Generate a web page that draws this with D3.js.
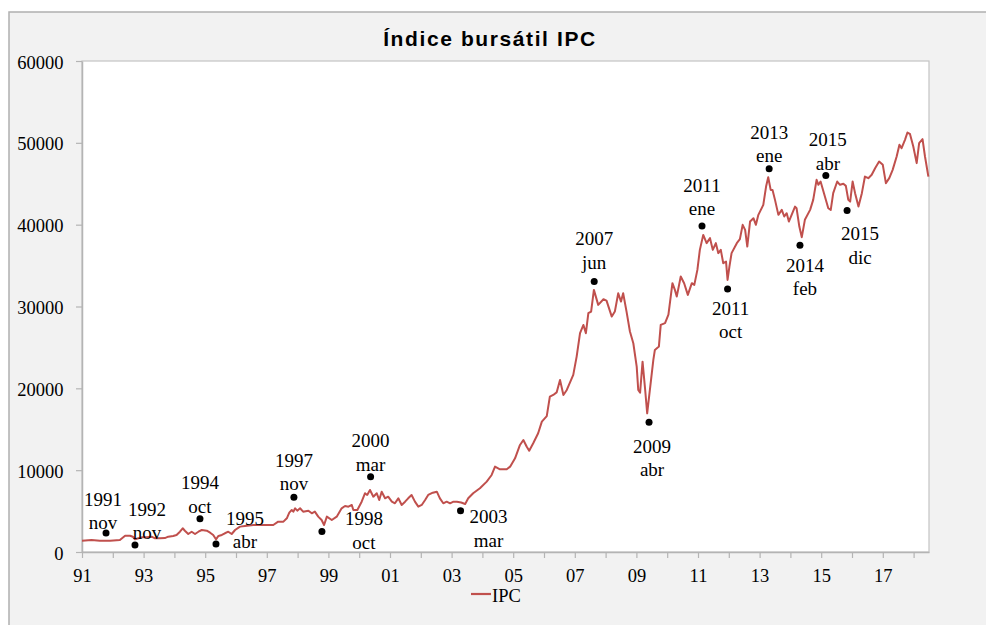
<!DOCTYPE html>
<html>
<head>
<meta charset="utf-8">
<script src="https://cdn.jsdelivr.net/npm/d3@7"></script>
<style>
  html, body { margin: 0; padding: 0; background: #ffffff; }
  svg { display: block; }
</style>
</head>
<body>
<svg id="chart" width="986" height="625"></svg>
<script>
// ---------------- DATA ----------------
const chartTitle = "Índice bursátil IPC";
const seriesName = "IPC";

// time in decimal years, index level
const ipcYears = [
  1991.00, 1991.31, 1991.58, 1991.91, 1992.23, 1992.40, 1992.56, 1992.65, 1992.72, 1992.83,
  1992.94, 1993.10, 1993.26, 1993.37, 1993.53, 1993.69, 1993.80, 1993.96, 1994.07, 1994.18,
  1994.27, 1994.34, 1994.45, 1994.56, 1994.67, 1994.78, 1994.89, 1995.05, 1995.16, 1995.26,
  1995.35, 1995.43, 1995.54, 1995.64, 1995.75, 1995.86, 1995.97, 1996.13, 1996.29, 1996.56,
  1996.89, 1997.21, 1997.37, 1997.54, 1997.65, 1997.73, 1997.81, 1997.86, 1997.92, 1997.99,
  1998.08, 1998.18, 1998.35, 1998.46, 1998.56, 1998.67, 1998.78, 1998.86, 1998.95, 1999.11,
  1999.27, 1999.43, 1999.54, 1999.65, 1999.76, 1999.81, 1999.94, 2000.08, 2000.19, 2000.26,
  2000.35, 2000.46, 2000.57, 2000.65, 2000.73, 2000.84, 2000.94, 2001.06, 2001.16, 2001.27,
  2001.38, 2001.49, 2001.59, 2001.70, 2001.81, 2001.92, 2002.03, 2002.14, 2002.24, 2002.39,
  2002.52, 2002.62, 2002.73, 2002.84, 2002.95, 2003.06, 2003.17, 2003.31, 2003.44, 2003.54,
  2003.70, 2003.92, 2004.14, 2004.30, 2004.41, 2004.57, 2004.79, 2004.90, 2005.06, 2005.22,
  2005.33, 2005.44, 2005.52, 2005.65, 2005.81, 2005.93, 2006.09, 2006.19, 2006.30, 2006.41,
  2006.52, 2006.63, 2006.74, 2006.88, 2006.95, 2007.06, 2007.17, 2007.28, 2007.36, 2007.44,
  2007.53, 2007.62, 2007.76, 2007.93, 2008.03, 2008.20, 2008.30, 2008.41, 2008.50, 2008.57,
  2008.68, 2008.79, 2008.90, 2009.01, 2009.06, 2009.12, 2009.20, 2009.28, 2009.35, 2009.55,
  2009.60, 2009.73, 2009.79, 2009.93, 2010.04, 2010.17, 2010.25, 2010.31, 2010.44, 2010.55,
  2010.67, 2010.80, 2010.88, 2010.98, 2011.06, 2011.17, 2011.28, 2011.39, 2011.48, 2011.58,
  2011.66, 2011.74, 2011.82, 2011.91, 2011.96, 2012.02, 2012.09, 2012.26, 2012.36, 2012.45,
  2012.53, 2012.60, 2012.69, 2012.80, 2012.88, 2012.96, 2013.04, 2013.12, 2013.21, 2013.28,
  2013.36, 2013.42, 2013.50, 2013.61, 2013.72, 2013.80, 2013.88, 2013.95, 2014.04, 2014.15,
  2014.20, 2014.29, 2014.37, 2014.47, 2014.64, 2014.74, 2014.85, 2014.91, 2014.98, 2015.12,
  2015.23, 2015.31, 2015.39, 2015.52, 2015.61, 2015.72, 2015.80, 2015.88, 2015.94, 2016.02,
  2016.10, 2016.21, 2016.32, 2016.42, 2016.53, 2016.64, 2016.75, 2016.88, 2017.00, 2017.10,
  2017.21, 2017.32, 2017.45, 2017.54, 2017.61, 2017.72, 2017.80, 2017.88, 2017.99, 2018.10,
  2018.18, 2018.29, 2018.37, 2018.48
];
const ipcValues = [
  1380, 1470, 1380, 1380, 1470, 1990, 1990, 1870, 1550, 1670,
  1790, 1790, 1870, 1670, 1670, 1700, 1870, 1960, 2080, 2480,
  2900, 2600, 2200, 2480, 2200, 2480, 2690, 2600, 2360, 2080,
  1550, 1960, 2080, 2290, 2480, 2200, 2690, 3100, 3180, 3300,
  3300, 3300, 3710, 3710, 4120, 4810, 5130, 4930, 5340, 5050,
  5340, 4930, 5050, 4730, 4930, 4320, 3910, 3300, 4320, 3910,
  4320, 5340, 5620, 5540, 5750, 5130, 5130, 6150, 7180, 6970,
  7580, 6760, 7180, 6360, 7370, 6560, 6760, 6150, 5950, 6560,
  5750, 6150, 6560, 6970, 6150, 5540, 5750, 6360, 6970, 7250,
  7370, 6560, 5950, 6150, 5950, 6150, 6150, 6050, 5870, 6560,
  7180, 7790, 8600, 9410, 10430, 10110, 10110, 10430, 11450, 13080,
  13690, 12870, 12380, 13290, 14510, 15930, 16600, 18990, 19190, 19500,
  21030, 19190, 19800, 21030, 21640, 23880, 26740, 27750, 26740, 29180,
  29380, 32030, 30200, 30890, 30720, 28770, 29380, 31620, 30600, 31620,
  29380, 26940, 25510, 22660, 19800, 19480, 23260, 20010, 16950, 23470,
  24690, 25100, 27750, 27960, 29000, 32850, 32030, 31210, 33660, 32850,
  31420, 32850, 32640, 34470, 36920, 38750, 37740, 38350, 36920, 37740,
  36520, 36920, 35290, 35490, 33250, 34880, 36520, 37740, 38230, 39980,
  39360, 37330, 40380, 40790, 39980, 41200, 41810, 42420, 44660, 45800,
  44250, 44250, 43030, 41200, 41810, 41000, 41400, 40380, 41200, 42210,
  42010, 39770, 38470, 40590, 41810, 43030, 45480, 44870, 45270, 43430,
  42010, 41810, 43850, 45270, 44870, 44990, 44740, 43030, 42820, 45270,
  43850, 42210, 43850, 45880, 45680, 46090, 46900, 47710, 47310, 45070,
  45680, 46700, 48330, 49760, 49350, 50370, 51260, 51100, 49550, 47520,
  49960, 50450, 48330, 45880
];

// highlighted turning points
const markYears  = [1991.78, 1992.72, 1994.83, 1995.35, 1997.88, 1998.79, 2000.37, 2003.29,
                    2007.63, 2009.41, 2011.13, 2011.96, 2013.31, 2014.31, 2015.15, 2015.84];
const markValues = [2330, 860, 4070, 980, 6680, 2500, 9210, 5050,
                    33040, 15860, 39850, 32150, 46820, 37490, 46000, 41720];
const markYearText  = ["1991", "1992", "1994", "1995", "1997", "1998", "2000", "2003",
                       "2007", "2009", "2011", "2011", "2013", "2014", "2015", "2015"];
const markMonthText = ["nov", "nov", "oct", "abr", "nov", "oct", "mar", "mar",
                       "jun", "abr", "ene", "oct", "ene", "feb", "abr", "dic"];

// axes
const yTickValues = [0, 10000, 20000, 30000, 40000, 50000, 60000];
const xTickYears  = d3.range(1991, 2019);
const xTickLabels = ["91", "", "93", "", "95", "", "97", "", "99", "", "01", "", "03", "", "05", "",
                     "07", "", "09", "", "11", "", "13", "", "15", "", "17", ""];

// ---------------- LAYOUT (not data) ----------------
// label placement relative to each dot: [dx, baseline offset of the month line]
const labelPlacement = [
  [-3, -4], [12, -6], [0, -6], [29, 4], [0, -7], [42, 17], [0, -6], [28, 36],
  [0, -13], [3, 54], [0, -11], [3, 49], [0, -7], [5, 50], [2, -6], [13, 53]
];

const W = 986, H = 625;
const plot = { left: 82, right: 929, top: 61, bottom: 552 };
const serif = "'Liberation Serif', 'Times New Roman', serif";
const sans = "'Liberation Sans', Arial, sans-serif";
const red = "#c0504d";
const gridGrey = "#b4b4b4";

const svg = d3.select("#chart");

// outer chart frame
svg.append("rect").attr("x", 9).attr("y", 12).attr("width", 1000).attr("height", 700)
  .attr("fill", "#f2f2f2").attr("stroke", "#b0b0b0").attr("stroke-width", 1.5);

// plot area
svg.append("rect").attr("x", plot.left).attr("y", plot.top)
  .attr("width", plot.right - plot.left).attr("height", plot.bottom - plot.top)
  .attr("fill", "#ffffff").attr("stroke", "#c4c4c4").attr("stroke-width", 1.2);

const x = d3.scaleLinear().domain([1991, 2018.5]).range([plot.left, plot.right]);
const y = d3.scaleLinear().domain([0, 60000]).range([plot.bottom, plot.top]);

// title
svg.append("text").attr("x", 490).attr("y", 46).attr("text-anchor", "middle")
  .attr("font-family", sans).attr("font-weight", "bold").attr("font-size", 21)
  .attr("letter-spacing", 1.6)
  .attr("fill", "#000").text(chartTitle);

// y axis
const yAxis = svg.append("g").attr("transform", `translate(${plot.left},0)`)
  .call(d3.axisLeft(y).tickValues(yTickValues).tickFormat(d3.format("d"))
    .tickSize(6).tickSizeOuter(0).tickPadding(12.5));
yAxis.select(".domain").attr("stroke", gridGrey).attr("stroke-width", 1.5);
yAxis.selectAll(".tick line").attr("stroke", gridGrey).attr("stroke-width", 1.2);
yAxis.selectAll(".tick text").attr("font-family", serif).attr("font-size", 18.5)
  .attr("fill", "#000").attr("dy", "0.38em");

// x axis
const xAxis = svg.append("g").attr("transform", `translate(0,${plot.bottom})`)
  .call(d3.axisBottom(x).tickValues(xTickYears).tickFormat((d, i) => xTickLabels[i])
    .tickSize(6).tickSizeOuter(0).tickPadding(11));
xAxis.select(".domain").attr("stroke", gridGrey).attr("stroke-width", 1.5);
xAxis.selectAll(".tick line").attr("stroke", gridGrey).attr("stroke-width", 1.2);
xAxis.selectAll(".tick text").attr("font-family", serif).attr("font-size", 18.5)
  .attr("fill", "#000");

// series line
const ipcData = ipcYears.map((t, i) => ({ t, v: ipcValues[i] }));
svg.append("path").datum(ipcData)
  .attr("fill", "none").attr("stroke", red).attr("stroke-width", 2)
  .attr("stroke-linejoin", "round")
  .attr("d", d3.line().x(d => x(d.t)).y(d => y(d.v)));

// marks and labels
const marks = markYears.map((t, i) => ({
  t, v: markValues[i], yr: markYearText[i], mo: markMonthText[i],
  dx: labelPlacement[i][0], dy: labelPlacement[i][1]
}));
const mg = svg.append("g");
mg.selectAll("circle").data(marks).join("circle")
  .attr("cx", d => x(d.t)).attr("cy", d => y(d.v)).attr("r", 3.5).attr("fill", "#000");
const lab = mg.selectAll("g.lab").data(marks).join("g").attr("class", "lab")
  .attr("transform", d => `translate(${x(d.t) + d.dx},${y(d.v) + d.dy})`);
lab.append("text").attr("y", -23.3).attr("text-anchor", "middle")
  .attr("font-family", serif).attr("font-size", 19).attr("fill", "#000").text(d => d.yr);
lab.append("text").attr("y", 0).attr("text-anchor", "middle")
  .attr("font-family", serif).attr("font-size", 19).attr("fill", "#000").text(d => d.mo);

// legend
const lg = svg.append("g");
lg.append("line").attr("x1", 471).attr("x2", 491).attr("y1", 594).attr("y2", 594)
  .attr("stroke", red).attr("stroke-width", 2.2);
lg.append("text").attr("x", 492).attr("y", 602).attr("font-family", serif)
  .attr("font-size", 18.5).attr("fill", "#000").text(seriesName);
</script>
</body>
</html>
